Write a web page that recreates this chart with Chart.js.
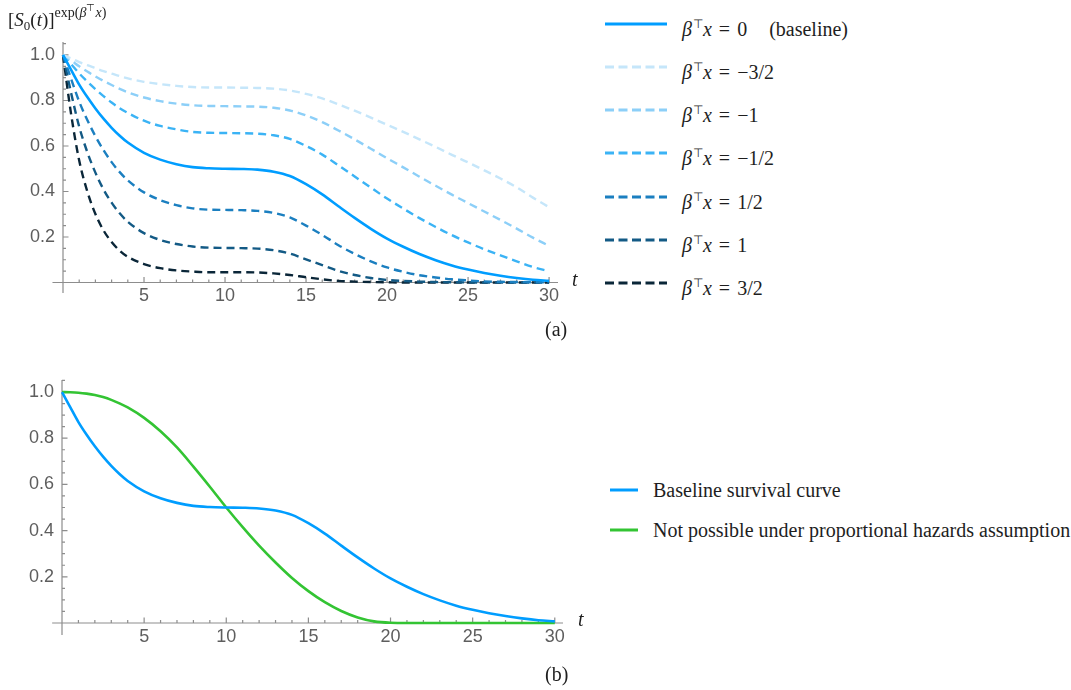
<!DOCTYPE html>
<html>
<head>
<meta charset="utf-8">
<script src="https://cdn.jsdelivr.net/npm/chart.js@4/dist/chart.umd.min.js"></script>
<style>
    body { margin: 0; background: #fff; width: 1071px; height: 690px; position: relative; overflow: hidden; font-family: "Liberation Serif", serif; color: #1e1e1e; }
    .box { position: absolute; }
    .txt { position: absolute; white-space: nowrap; font-size: 20px; }
    .row { position: absolute; height: 30px; line-height: 30px; white-space: nowrap; font-size: 20px; }
    .row svg { position: absolute; top: 0; }
    .row span.t { position: absolute; top: 0; }
    sup.tp { font-size: 12px; vertical-align: 8px; margin-left: 1px; }
    .eq { margin: 0 7px; }
</style>
</head>
<body>
<div class="box" style="left:0;top:0;width:600px;height:320px"><canvas id="chart-a"></canvas></div>
<div class="box" style="left:0;top:340px;width:600px;height:330px"><canvas id="chart-b"></canvas></div>

<div class="txt" style="left:8px;top:2px;font-size:19px">[<i>S</i><sub style="font-size:13px">0</sub>(<i>t</i>)]<sup style="font-size:14px;vertical-align:9px">exp(<i>β</i><sup style="font-size:10px">⊤</sup><i>x</i>)</sup></div>
<div class="txt" style="left:572px;top:268px;font-style:italic">t</div>
<div class="txt" style="left:578px;top:608px;font-style:italic">t</div>
<div class="txt" style="left:545px;top:318px">(a)</div>
<div class="txt" style="left:545px;top:663px">(b)</div>

<div id="legend-a"></div>
<div id="legend-b"></div>

<script>
// time points (finer near 0 where the curves fall fast)
const tValues = [0, 0.5, 1, 1.5, 2, 2.5, 3, 3.5, 4, 5, 6, 7, 8, 9, 10, 11, 12, 13, 14, 15,
    16, 17, 18, 19, 20, 21, 22, 23, 24, 25, 26, 27, 28, 29, 30];

// baseline survival S0(t)
const baseline = [1, 0.935, 0.87, 0.815, 0.765, 0.72, 0.68, 0.645, 0.615, 0.57, 0.54, 0.52, 0.507, 0.502, 0.5, 0.499, 0.496, 0.487, 0.468, 0.432,
    0.387, 0.335, 0.284, 0.236, 0.193, 0.157, 0.125, 0.098, 0.075, 0.057, 0.042, 0.03, 0.02, 0.012, 0.007];

// [S0(t)]^exp(beta'x) for each beta'x
const sMinus15 = [1, 0.985, 0.969, 0.955, 0.942, 0.929, 0.918, 0.907, 0.897, 0.882, 0.872, 0.864, 0.859, 0.857, 0.857, 0.856, 0.855, 0.852, 0.844, 0.829,
    0.809, 0.783, 0.755, 0.725, 0.693, 0.662, 0.629, 0.596, 0.561, 0.528, 0.493, 0.457, 0.418, 0.373, 0.331];
const sMinus10 = [1, 0.976, 0.95, 0.927, 0.906, 0.886, 0.868, 0.851, 0.836, 0.813, 0.797, 0.786, 0.779, 0.776, 0.775, 0.774, 0.773, 0.768, 0.756, 0.734,
    0.705, 0.668, 0.629, 0.588, 0.546, 0.506, 0.465, 0.425, 0.386, 0.349, 0.312, 0.275, 0.237, 0.197, 0.161];
const sMinus05 = [1, 0.96, 0.919, 0.883, 0.85, 0.819, 0.791, 0.766, 0.745, 0.711, 0.688, 0.673, 0.662, 0.658, 0.657, 0.656, 0.654, 0.647, 0.631, 0.6,
    0.562, 0.515, 0.466, 0.417, 0.369, 0.325, 0.283, 0.244, 0.208, 0.176, 0.146, 0.119, 0.093, 0.068, 0.049];
const sPlus05 = [1, 0.895, 0.795, 0.714, 0.643, 0.582, 0.529, 0.485, 0.449, 0.396, 0.362, 0.34, 0.326, 0.32, 0.319, 0.318, 0.315, 0.306, 0.286, 0.25,
    0.209, 0.164, 0.126, 0.093, 0.066, 0.047, 0.032, 0.022, 0.014, 0.009, 0.005, 0.003, 0.002, 0.001, 0.0003];
const sPlus10 = [1, 0.833, 0.685, 0.573, 0.483, 0.409, 0.351, 0.304, 0.267, 0.217, 0.187, 0.169, 0.158, 0.153, 0.152, 0.151, 0.149, 0.142, 0.127, 0.102,
    0.076, 0.051, 0.033, 0.02, 0.011, 0.007, 0.004, 0.002, 0.001, 0.0004, 0.0002, 0.0001, 0, 0, 0];
const sPlus15 = [1, 0.74, 0.536, 0.4, 0.301, 0.229, 0.178, 0.14, 0.113, 0.081, 0.063, 0.053, 0.048, 0.045, 0.045, 0.045, 0.044, 0.04, 0.033, 0.023,
    0.014, 0.007, 0.004, 0.002, 0.001, 0, 0, 0, 0, 0, 0, 0, 0, 0, 0];

// curve that crosses the baseline (panel b)
const notPH = [1, 0.999, 0.997, 0.993, 0.987, 0.978, 0.966, 0.951, 0.933, 0.888, 0.83, 0.76, 0.677, 0.59, 0.5, 0.415, 0.335, 0.262, 0.195, 0.138,
    0.09, 0.052, 0.024, 0.007, 0.001, 0, 0, 0, 0, 0, 0, 0, 0, 0, 0];

const xTicks = [5, 10, 15, 20, 25, 30];
const yTicks = [0.2, 0.4, 0.6, 0.8, 1.0];

const topLabels = ['0', '\u22123/2', '\u22121', '\u22121/2', '1/2', '1', '3/2'];
const topSeries = [baseline, sMinus15, sMinus10, sMinus05, sPlus05, sPlus10, sPlus15];
const topColors = ['#009dff', '#c5e6fa', '#8ccff8', '#3bb3f5', '#1b7fc0', '#135a85', '#0a2638'];

const bottomLabels = ['Baseline survival curve', 'Not possible under proportional hazards assumption'];
const bottomColors = ['#009dff', '#33c433'];

Chart.defaults.animation = false;

// Mathematica-like axes: lines through the origin, ticks pointing inward
const mathAxes = {
    id: 'mathAxes',
    beforeDatasetsDraw(chart, args, opts) {
        const { ctx, scales: { x, y } } = chart;
        const x0 = x.getPixelForValue(0);
        const y0 = y.getPixelForValue(0);
        ctx.save();
        ctx.strokeStyle = '#8d8d8d';
        ctx.lineWidth = 1.2;
        ctx.beginPath();
        ctx.moveTo(x.getPixelForValue(opts.xFrom), y0);
        ctx.lineTo(x.right, y0);
        ctx.moveTo(x0, y.getPixelForValue(opts.yFrom));
        ctx.lineTo(x0, y.top);
        for (let t = 1; t <= 30; t++) {
            const px = x.getPixelForValue(t);
            const len = t % 5 === 0 ? 5.5 : 3;
            ctx.moveTo(px, y0);
            ctx.lineTo(px, y0 - len);
        }
        for (let k = 1; k <= 21; k++) {
            const py = y.getPixelForValue(k * 0.05);
            const len = k % 4 === 0 ? 5.5 : 3;
            ctx.moveTo(x0, py);
            ctx.lineTo(x0 + len, py);
        }
        ctx.stroke();
        ctx.restore();
    }
};

function makeOptions(xMax, yMax, pad, yAxisWidth, xAxisHeight, xFrom, yFrom) {
    return {
        responsive: true,
        maintainAspectRatio: false,
        layout: { padding: pad },
        plugins: { legend: { display: false }, tooltip: { enabled: false }, mathAxes: { xFrom: xFrom, yFrom: yFrom } },
        elements: { point: { radius: 0 } },
        scales: {
            x: {
                type: 'linear', min: 0, max: xMax,
                grid: { display: false, drawTicks: false },
                border: { display: false },
                afterBuildTicks: s => { s.ticks = xTicks.map(v => ({ value: v })); },
                afterFit: s => { s.height = xAxisHeight; },
                ticks: { padding: 3, color: '#5e5e5e', font: { family: 'Liberation Sans', size: 18 } }
            },
            y: {
                type: 'linear', min: 0, max: yMax,
                grid: { display: false, drawTicks: false },
                border: { display: false },
                afterBuildTicks: s => { s.ticks = yTicks.map(v => ({ value: v })); },
                afterFit: s => { s.width = yAxisWidth; },
                ticks: { padding: 8, color: '#5e5e5e', font: { family: 'Liberation Sans', size: 18 }, callback: v => v.toFixed(1) }
            }
        }
    };
}

function lineSet(label, data, color, dashed) {
    return {
        label: label,
        data: tValues.map((t, i) => ({ x: t, y: data[i] })),
        borderColor: color,
        borderWidth: dashed ? 2.4 : 2.6,
        borderDash: dashed ? [8, 5] : [],
        cubicInterpolationMode: 'monotone',
        fill: false,
        clip: false
    };
}

new Chart(document.getElementById('chart-a'), {
    type: 'line',
    data: { datasets: topSeries.map((d, i) => lineSet(topLabels[i], d, topColors[i], i > 0)) },
    options: makeOptions(30.55, 1.057, { left: 0, top: 42, right: 42, bottom: 0 }, 63, 37.5, -0.65, -0.046),
    plugins: [mathAxes]
});

new Chart(document.getElementById('chart-b'), {
    type: 'line',
    data: { datasets: [lineSet(bottomLabels[0], baseline, bottomColors[0], false), lineSet(bottomLabels[1], notPH, bottomColors[1], false)] },
    options: makeOptions(30.5, 1.052, { left: 0, top: 40, right: 37, bottom: 0 }, 62, 47, -0.6, -0.052),
    plugins: [mathAxes]
});

// legends
const legendA = document.getElementById('legend-a');
const rowYA = [23.5, 66.7, 109.7, 153, 196.5, 239.5, 282.7];
topLabels.forEach((lab, i) => {
    const row = document.createElement('div');
    row.className = 'row';
    row.style.left = '605px';
    row.style.top = (rowYA[i] - 15) + 'px';
    const dash = i > 0 ? 'stroke-dasharray="9 4.5"' : '';
    row.innerHTML = `<svg width="62" height="30"><line x1="0" y1="15" x2="62" y2="15" stroke="${topColors[i]}" stroke-width="3" ${dash}/></svg>` +
        `<span class="t" style="left:77px"><i>β</i><sup class="tp">⊤</sup><i>x</i><span class="eq">=</span>${lab}${i === 0 ? '<span style="margin-left:22px">(baseline)</span>' : ''}</span>`;
    legendA.appendChild(row);
});

const legendB = document.getElementById('legend-b');
const rowYB = [490, 530];
bottomLabels.forEach((lab, i) => {
    const row = document.createElement('div');
    row.className = 'row';
    row.style.left = '610px';
    row.style.top = (rowYB[i] - 15) + 'px';
    row.innerHTML = `<svg width="28" height="30"><line x1="0" y1="15" x2="28" y2="15" stroke="${bottomColors[i]}" stroke-width="3"/></svg>` +
        `<span class="t" style="left:43px">${lab}</span>`;
    legendB.appendChild(row);
});
</script>
</body>
</html>
